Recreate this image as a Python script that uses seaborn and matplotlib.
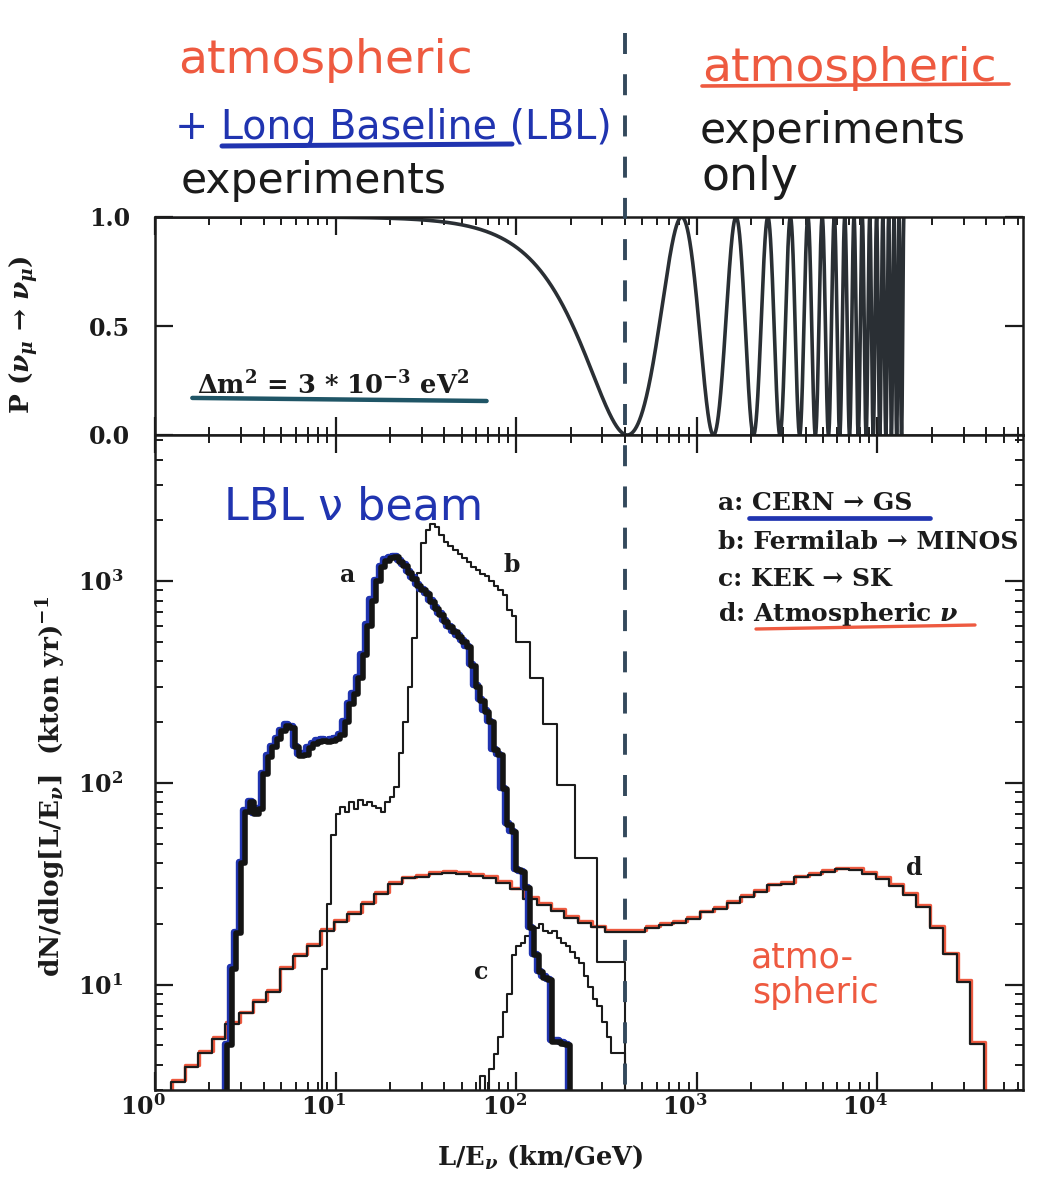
import numpy as np
import pandas as pd
import matplotlib
matplotlib.use("Agg")
import matplotlib.pyplot as plt
import matplotlib.patheffects as pe
from matplotlib.lines import Line2D
from matplotlib.transforms import blended_transform_factory, ScaledTranslation
from matplotlib.ticker import FixedLocator, LogLocator, NullFormatter
import seaborn as sns

# ---------------------------------------------------------------- data --
DM2_EV2 = 3e-3            # mass splitting of the survival curve (eV^2)
LE_OSC_MAX = 1.4e4        # km/GeV, end of the survival curve
FIRST_DIP_LE = 400.0      # km/GeV, border between the two regimes

# d: atmospheric nu, log10-uniform bins
atm_log_start = 0.09
atm_log_width = 0.075
atm_counts = [3.3, 3.9, 4.6, 5.4, 6.4, 7.2, 8.2, 9.2, 12.0, 13.9,
              15.5, 18.5, 20.4, 22.4, 25.2, 28.1, 31.6, 33.6, 34.2, 35.5,
              35.6, 35.4, 34.7, 33.7, 32.0, 29.6, 26.5, 24.9, 23.1, 21.4,
              20.3, 19.2, 18.3, 18.2, 18.3, 19.0, 19.8, 20.3, 21.1, 22.8,
              23.7, 25.5, 27.1, 28.8, 31.0, 31.5, 34.0, 34.9, 36.2, 37.2,
              37.0, 35.2, 33.3, 30.9, 27.7, 24.2, 19.1, 14.1, 10.3, 5.1]

# beam spectra, finer log10 bins
beam_log_width = 0.025
cern_log_start = 0.40
cern_counts = [5, 12, 18, 40, 72, 80, 70, 74, 110, 135,
               150, 165, 180, 192, 188, 150, 136, 138, 148, 155,
               160, 162, 160, 162, 165, 172, 200, 245, 275, 330,
               430, 600, 800, 1000, 1170, 1260, 1300, 1310, 1250, 1190,
               1100, 1030, 950, 900, 860, 790, 730, 680, 630, 590,
               560, 530, 500, 470, 380, 300, 255, 225, 200, 145,
               137, 93, 62, 57, 37, 36, 30, 19, 14, 11.5,
               10.8, 10.5, 5.2, 5.2, 5.1, 5.0]
fnal_log_start = 0.925
fnal_counts = [12, 25, 55, 70, 76, 72, 80, 74, 82, 78,
               80, 77, 75, 72, 80, 85, 95, 140, 200, 300,
               520, 1100, 1550, 1800, 1920, 1850, 1700, 1560, 1500, 1430,
               1370, 1300, 1250, 1180, 1130, 1090, 1060, 1000, 950, 900,
               850, 720, 670, 500, 500, 500, 330, 330, 330, 196,
               196, 196, 97, 97, 97, 97, 42.5, 42.5, 42.5, 42.5,
               42.5, 13, 13, 13, 13, 13, 13]
kek_log_start = 1.80
kek_counts = [3.5, 1, 3.8, 4.5, 5.5, 7.3, 9, 14, 15.5, 16,
              17.5, 18.3, 19, 20, 18.5, 18, 18.5, 17, 16, 15.5,
              14.5, 13.5, 12.8, 11, 9.7, 8.5, 7.8, 6.5, 5.5, 4.6,
              4.6, 4.6]

prob_ticks = [0.0, 0.5, 1.0]
prob_ticklabels = ["0.0", "0.5", "1.0"]
legend_entries = ["a: CERN → GS", "b: Fermilab → MINOS",
                  "c: KEK → SK", "d: Atmospheric $\\nu$"]
curve_tags = ["a", "b", "c", "d"]
tag_le = [11.6, 94.0, 64.0, 16000.0]
tag_n = [1070.0, 1200.0, 11.6, 38.0]

# ------------------------------------------------------------- styling --
W, H = 1042, 1178
INK = "#1b1b1b"
PEN_RED = "#ee5a40"
PEN_BLUE = "#2034b0"

sns.set_theme(style="ticks", rc={
    "axes.linewidth": 1.8,
    "xtick.major.width": 1.6, "ytick.major.width": 1.6,
    "xtick.minor.width": 1.4, "ytick.minor.width": 1.4,
    "axes.edgecolor": INK, "xtick.color": INK, "ytick.color": INK,
    "text.color": INK, "axes.labelcolor": INK,
    "mathtext.fontset": "dejavuserif",
})
plt.rcParams["font.family"] = ["DejaVu Serif", "DejaVu Sans"]
plt.rcParams["font.weight"] = "bold"
plt.rcParams["axes.labelweight"] = "bold"


def step_table(log_start, log_width, counts, floor=1.0):
    """Outline of a histogram (bins uniform in log10) for steps-post drawing."""
    n = len(counts)
    edges = 10.0 ** (log_start + log_width * np.arange(n + 1))
    x = np.concatenate([[edges[0]], edges, [edges[-1]]])
    y = np.concatenate([[floor], counts, [counts[-1], floor]])
    return pd.DataFrame({"LE": x, "N": y})


def fig_xy(px, py):
    return px / W, 1.0 - py / H


fig = plt.figure(figsize=(W / 100, H / 100), dpi=100)
fig.patch.set_facecolor("white")
ax_top = fig.add_axes([155 / W, 1 - 435 / H, 868 / W, 218 / H])
ax_bot = fig.add_axes([155 / W, 1 - 1090 / H, 868 / W, 655 / H])

# ---------------------------------------------------- survival panel --
le = np.logspace(0, np.log10(LE_OSC_MAX), 8000)
surv = 1.0 - np.sin(1.27 * DM2_EV2 * le) ** 2
sns.lineplot(x=le, y=surv, ax=ax_top, estimator=None, sort=False,
             color="#2a2f34", lw=2.6)
ax_top.set_xscale("log")
ax_top.set_xlim(1, 6.4e4)
ax_top.set_ylim(0, 1)
ax_top.yaxis.set_major_locator(FixedLocator(prob_ticks))
ax_top.set_yticklabels(prob_ticklabels)
ax_top.set_xlabel("")
ax_top.set_ylabel("P ($\\nu_\\mu$ → $\\nu_\\mu$)", fontsize=19)
ax_top.yaxis.set_label_coords(-0.132, 0.46)
ax_top.text(0.048, 0.188, "Δm$^2$ = 3 * 10$^{-3}$ eV$^2$",
            transform=ax_top.transAxes, fontsize=18.5, ha="left", va="baseline")
ax_top.add_line(Line2D([0.043, 0.382], [0.170, 0.156], transform=ax_top.transAxes,
                       color="#1f5566", lw=3.2, solid_capstyle="round"))

# ---------------------------------------------------- spectrum panel --
ax_bot.set_xscale("log")
ax_bot.set_yscale("log")

atm = step_table(atm_log_start, atm_log_width, atm_counts)
sns.lineplot(data=atm, x="LE", y="N", ax=ax_bot, estimator=None, sort=False,
             drawstyle="steps-post", color=INK, lw=1.6,
             path_effects=[pe.SimpleLineShadow(offset=(0.5, 1.3), shadow_color=PEN_RED,
                                               alpha=1.0, linewidth=2.4),
                           pe.Normal()])

fnal = step_table(fnal_log_start, beam_log_width, fnal_counts)
sns.lineplot(data=fnal, x="LE", y="N", ax=ax_bot, estimator=None, sort=False,
             drawstyle="steps-post", color=INK, lw=1.5)

kek = step_table(kek_log_start, beam_log_width, kek_counts)
sns.lineplot(data=kek, x="LE", y="N", ax=ax_bot, estimator=None, sort=False,
             drawstyle="steps-post", color=INK, lw=1.5)

cern = step_table(cern_log_start, beam_log_width, cern_counts)
sns.lineplot(data=cern, x="LE", y="N", ax=ax_bot, estimator=None, sort=False,
             drawstyle="steps-post", color="#141414", lw=4.0,
             path_effects=[pe.SimpleLineShadow(offset=(-1.6, 1.0), shadow_color=PEN_BLUE,
                                               alpha=1.0, linewidth=4.6),
                           pe.Normal()])

ax_bot.set_xlim(1, 6.4e4)
ax_bot.set_ylim(3.0, 5300)
ax_bot.set_xlabel("L/E$_\\nu$ (km/GeV)", fontsize=18.5)
ax_bot.xaxis.set_label_coords(0.4435, -0.082)
ax_bot.set_ylabel("dN/dlog[L/E$_\\nu$]  (kton yr)$^{-1}$", fontsize=19)
ax_bot.yaxis.set_label_coords(-0.100, 0.464)

for tag, x, y in zip(curve_tags, tag_le, tag_n):
    ax_bot.text(x, y, tag, fontsize=17, ha="center", va="center")

legend_y = [0.885, 0.826, 0.769, 0.716]
for entry, y in zip(legend_entries, legend_y):
    ax_bot.text(0.649, y, entry, transform=ax_bot.transAxes, fontsize=18,
                ha="left", va="baseline")

# ----------------------------------------------------------- ticks --
for ax in (ax_top, ax_bot):
    ax.xaxis.set_major_locator(LogLocator(base=10, numticks=10))
    ax.xaxis.set_minor_locator(LogLocator(base=10, subs=np.arange(2, 10), numticks=20))
    ax.xaxis.set_minor_formatter(NullFormatter())
    ax.tick_params(which="both", direction="in", top=True, right=True)
    ax.tick_params(which="major", length=13)
    ax.tick_params(which="minor", length=6)
    for sp in ax.spines.values():
        sp.set_visible(True)
        sp.set_linewidth(1.8)
ax_top.tick_params(axis="x", which="both", labelbottom=False)
ax_top.tick_params(axis="y", labelsize=17, pad=18)
ax_bot.yaxis.set_major_locator(LogLocator(base=10, numticks=10))
ax_bot.yaxis.set_minor_locator(LogLocator(base=10, subs=np.arange(2, 10), numticks=20))
ax_bot.yaxis.set_minor_formatter(NullFormatter())
ax_bot.tick_params(axis="y", labelsize=17, pad=23)
ax_bot.tick_params(axis="x", labelsize=17, pad=3)
# decade labels sit a little left of their ticks
label_shift = ScaledTranslation(-12 / 100, 0, fig.dpi_scale_trans)
for lab in ax_bot.get_xticklabels():
    lab.set_transform(lab.get_transform() + label_shift)

# ------------------------------------------------ regime border --
blend = blended_transform_factory(ax_bot.transData, fig.transFigure)
fig.add_artist(Line2D([FIRST_DIP_LE, FIRST_DIP_LE], [1 - 33 / H, 1 - 1088 / H],
                      transform=blend, color="#33495c", lw=2.8,
                      dashes=(5.4, 5.2), zorder=5))

# ---------------------------------------------------- notes in pen --
hand = dict(family="DejaVu Sans", fontweight="normal", ha="left", va="baseline")
fig.text(*fig_xy(178, 73), "atmospheric", color=PEN_RED, fontsize=34, **hand)
fig.text(*fig_xy(175, 139), "+ Long Baseline (LBL)", color=PEN_BLUE, fontsize=28.5, **hand)
fig.text(*fig_xy(181, 193), "experiments", color=INK, fontsize=30.5, **hand)
fig.text(*fig_xy(702, 81), "atmospheric", color=PEN_RED, fontsize=34, **hand)
fig.text(*fig_xy(700, 143), "experiments", color=INK, fontsize=30.5, **hand)
fig.text(*fig_xy(702, 190), "only", color=INK, fontsize=33, **hand)
fig.text(*fig_xy(224, 520), "LBL ν beam", color=PEN_BLUE, fontsize=32, **hand)
fig.text(*fig_xy(751, 967), "atmo-", color=PEN_RED, fontsize=25, **hand)
fig.text(*fig_xy(752, 1003), "spheric", color=PEN_RED, fontsize=25, **hand)


def pen_line(p0, p1, color, lw):
    (x0, y0), (x1, y1) = fig_xy(*p0), fig_xy(*p1)
    fig.add_artist(Line2D([x0, x1], [y0, y1], transform=fig.transFigure,
                          color=color, lw=lw, solid_capstyle="round"))


pen_line((222, 146), (512, 144), PEN_BLUE, 3.6)
pen_line((702, 86), (1009, 84), PEN_RED, 2.6)
pen_line((749, 518), (930, 518), PEN_BLUE, 3.4)
pen_line((756, 629), (975, 625), PEN_RED, 2.4)

fig.savefig("out.png", dpi=100, facecolor="white")
